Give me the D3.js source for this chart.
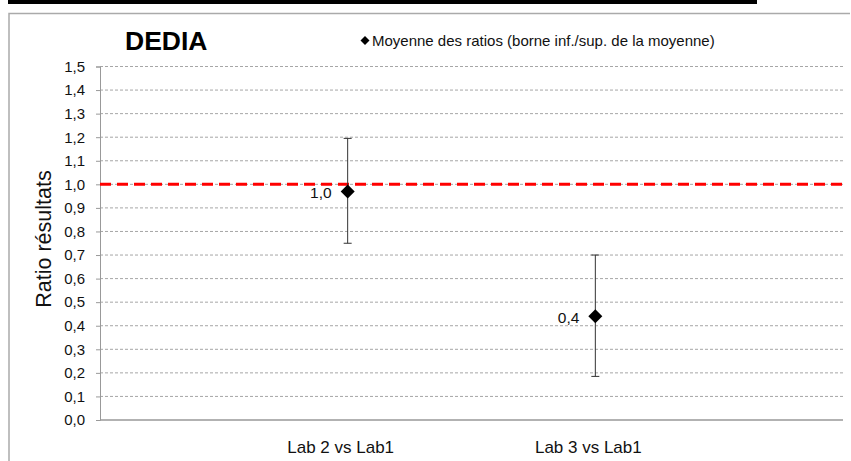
<!DOCTYPE html>
<html>
<head>
<meta charset="utf-8">
<script src="https://cdn.jsdelivr.net/npm/d3@7"></script>
<style>
  body { margin: 0; background: #fff; }
  svg { display: block; font-family: "Liberation Sans", Arial, sans-serif; }
</style>
</head>
<body>
<div id="container"></div>
<script>
/** DATA */
const categories = ["Lab 2 vs Lab1", "Lab 3 vs Lab1"];
const means = [0.97, 0.44];
const lower = [0.75, 0.185];
const upper = [1.195, 0.70];
const meanLabels = ["1,0", "0,4"];
const yDomain = [0, 1.5];
const refValue = 1.0;
const title = "DEDIA";
const legendText = "Moyenne des ratios (borne inf./sup. de la moyenne)";
const yTitle = "Ratio résultats";

/** CONSTANTS */
const width = 851,
  height = 461,
  margin = { top: 66.5, bottom: 41, left: 100, right: 8 };

const svg = d3.select("#container")
  .append("svg")
  .attr("width", width)
  .attr("height", height);

// top black bar + frame
svg.append("rect")
  .attr("x", 8).attr("y", 0)
  .attr("width", 749).attr("height", 4)
  .attr("fill", "#000");

svg.append("path")
  .attr("d", `M9,${height + 2} V13.5 H850`)
  .attr("fill", "none")
  .attr("stroke", "#aaa")
  .attr("stroke-width", 1.5);

const x = d3.scalePoint()
  .domain(categories)
  .range([margin.left, width - margin.right])
  .padding(1);

const y = d3.scaleLinear()
  .domain(yDomain)
  .range([height - margin.bottom, margin.top]);

const fmt = v => d3.format(".1f")(v).replace(".", ",");
const yTicks = y.ticks(15);

// gridlines
svg.append("g")
  .selectAll("line")
  .data(yTicks.filter(d => d > 0))
  .join("line")
  .attr("x1", margin.left)
  .attr("x2", width - margin.right)
  .attr("y1", d => y(d))
  .attr("y2", d => y(d))
  .attr("stroke", "#a6a6a6")
  .attr("stroke-width", 1)
  .attr("stroke-dasharray", "3,2");

// y axis
const yAxis = svg.append("g")
  .attr("transform", `translate(${margin.left},0)`)
  .call(d3.axisLeft(y).tickValues(yTicks).tickFormat(fmt).tickSize(4).tickPadding(11));
yAxis.select(".domain").attr("stroke", "#999");
yAxis.selectAll(".tick line").attr("stroke", "#999");
yAxis.selectAll(".tick text")
  .attr("font-size", "15px")
  .attr("font-family", "Liberation Sans, Arial, sans-serif")
  .attr("fill", "#111");

// x axis line
svg.append("line")
  .attr("x1", margin.left)
  .attr("x2", width - margin.right)
  .attr("y1", y(0))
  .attr("y2", y(0))
  .attr("stroke", "#999")
  .attr("stroke-width", 1.5);

// category labels
svg.append("g")
  .selectAll("text")
  .data(categories)
  .join("text")
  .attr("x", d => x(d) - 7)
  .attr("y", 453)
  .attr("text-anchor", "middle")
  .attr("font-size", "17px")
  .attr("fill", "#111")
  .text(d => d);

// reference line
svg.append("line")
  .attr("x1", margin.left)
  .attr("x2", width - margin.right)
  .attr("y1", y(refValue))
  .attr("y2", y(refValue))
  .attr("stroke", "#f00")
  .attr("stroke-width", 3)
  .attr("stroke-dasharray", "11,6");

// error bars
const bars = svg.append("g")
  .selectAll("g")
  .data(categories)
  .join("g")
  .attr("stroke", "#333")
  .attr("stroke-width", 1);

bars.append("line")
  .attr("x1", d => x(d)).attr("x2", d => x(d))
  .attr("y1", (d, i) => y(lower[i]))
  .attr("y2", (d, i) => y(upper[i]));
bars.append("line")
  .attr("x1", d => x(d) - 4).attr("x2", d => x(d) + 4)
  .attr("y1", (d, i) => y(upper[i])).attr("y2", (d, i) => y(upper[i]));
bars.append("line")
  .attr("x1", d => x(d) - 4).attr("x2", d => x(d) + 4)
  .attr("y1", (d, i) => y(lower[i])).attr("y2", (d, i) => y(lower[i]));

// mean diamonds
const diamond = r => `M0,${-r} L${r},0 L0,${r} L${-r},0 Z`;
svg.append("g")
  .selectAll("path")
  .data(categories)
  .join("path")
  .attr("transform", (d, i) => `translate(${x(d)},${y(means[i])})`)
  .attr("d", diamond(7))
  .attr("fill", "#000");

// mean labels
svg.append("g")
  .selectAll("text")
  .data(categories)
  .join("text")
  .attr("x", d => x(d) - 16)
  .attr("y", (d, i) => y(means[i]))
  .attr("dy", "0.4em")
  .attr("text-anchor", "end")
  .attr("font-size", "15.5px")
  .attr("fill", "#111")
  .text((d, i) => meanLabels[i]);

// title
svg.append("text")
  .attr("x", 125)
  .attr("y", 50)
  .attr("font-size", "26.5px")
  .attr("font-weight", "bold")
  .attr("fill", "#000")
  .text(title);

// legend
svg.append("path")
  .attr("transform", "translate(365,40.5)")
  .attr("d", diamond(4.5))
  .attr("fill", "#000");
svg.append("text")
  .attr("x", 372)
  .attr("y", 46)
  .attr("font-size", "15px")
  .attr("fill", "#111")
  .text(legendText);

// y title
svg.append("text")
  .attr("transform", `translate(51,239) rotate(-90)`)
  .attr("text-anchor", "middle")
  .attr("font-size", "21.5px")
  .attr("fill", "#111")
  .text(yTitle);
</script>
</body>
</html>
